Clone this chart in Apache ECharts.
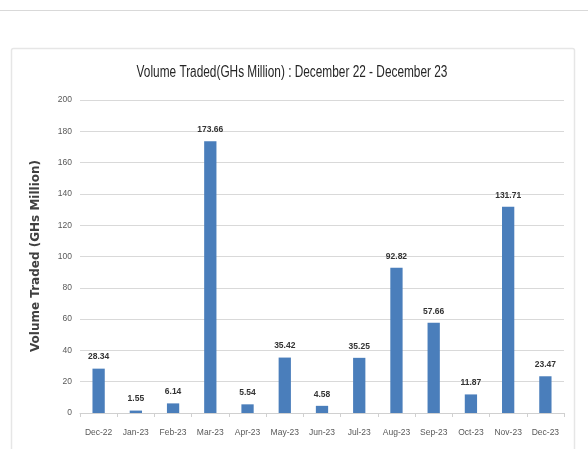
<!DOCTYPE html>
<html>
<head>
<meta charset="utf-8">
<style>
  html, body { margin: 0; padding: 0; background: #fff; }
  #chart { width: 588px; height: 449px; }
</style>
<script src="https://cdn.jsdelivr.net/npm/echarts@6/dist/echarts.min.js"></script>
</head>
<body>
<div id="chart"></div>
<script>
// Monthly volume traded, GHs million
const months = ['Dec-22', 'Jan-23', 'Feb-23', 'Mar-23', 'Apr-23', 'May-23', 'Jun-23',
                'Jul-23', 'Aug-23', 'Sep-23', 'Oct-23', 'Nov-23', 'Dec-23'];
const volumes = [28.34, 1.55, 6.14, 173.66, 5.54, 35.42, 4.58,
                 35.25, 92.82, 57.66, 11.87, 131.71, 23.47];
const titleText = 'Volume Traded(GHs Million) : December 22 - December 23';
const yAxisTitle = 'Volume Traded (GHs Million)';

const narrow = '"Liberation Sans Narrow", "Liberation Sans", Arial, sans-serif';

const chart = echarts.init(document.getElementById('chart'), null, { renderer: 'canvas' });
chart.setOption({
  backgroundColor: '#fff',
  animation: false,
  graphic: [
    // thin separator across the top of the page
    { type: 'line', shape: { x1: 0, y1: 10.5, x2: 588, y2: 10.5 },
      style: { stroke: '#d9d9d9', lineWidth: 1 } },
    // card frame around the chart
    { type: 'rect', shape: { x: 11.5, y: 48.5, width: 563, height: 420, r: 2 },
      style: { fill: 'none', stroke: '#e6e6e6', lineWidth: 1.5 } },
    // chart title, condensed horizontally
    { type: 'text', x: 292, y: 73, scaleX: 0.74,
      style: { text: titleText, fill: '#262626', font: '16px "Liberation Sans", Arial, sans-serif',
               align: 'center', verticalAlign: 'middle' } },
    // vertical axis title
    { type: 'text', x: 36, y: 256, rotation: Math.PI / 2,
      style: { text: yAxisTitle, fill: '#404040', font: 'bold 12px "DejaVu Sans", Verdana, sans-serif',
               align: 'center', verticalAlign: 'middle' } }
  ],
  grid: { left: 80, right: 24, top: 100, bottom: 36 },
  xAxis: {
    type: 'category',
    data: months,
    axisLine: { lineStyle: { color: '#d0d0d0' } },
    axisTick: { show: true, length: 4, lineStyle: { color: '#d0d0d0' } },
    axisLabel: { interval: 0, fontFamily: narrow, fontSize: 8.5, color: '#595959', margin: 15 }
  },
  yAxis: {
    type: 'value',
    min: 0, max: 200, interval: 20,
    axisLine: { show: false },
    axisTick: { show: false },
    splitLine: { lineStyle: { color: '#d9d9d9' } },
    axisLabel: { fontFamily: narrow, fontSize: 8.5, color: '#595959', margin: 8 }
  },
  series: [{
    type: 'bar',
    data: volumes,
    barWidth: '33%',
    itemStyle: { color: '#4a7ebb' },
    label: {
      show: true, position: 'top', distance: 7,
      fontFamily: narrow, fontSize: 8.5, fontWeight: 'bold', color: '#333'
    }
  }]
});
</script>
</body>
</html>
